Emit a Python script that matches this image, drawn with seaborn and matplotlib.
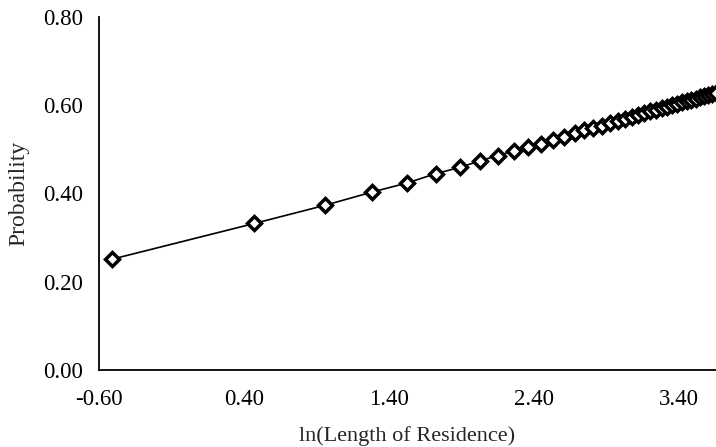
import matplotlib
matplotlib.use("Agg")
import matplotlib.pyplot as plt
import seaborn as sns
import pandas as pd
from matplotlib.ticker import FormatStrFormatter

# values
ln_residence = [-0.511, 0.470, 0.956, 1.281, 1.526, 1.723, 1.887, 2.028, 2.152, 2.262,
                2.361, 2.451, 2.534, 2.610, 2.681, 2.747, 2.809, 2.868, 2.923, 2.976,
                3.025, 3.073, 3.118, 3.161, 3.203, 3.243, 3.281, 3.318, 3.353, 3.388,
                3.421, 3.453, 3.484, 3.515, 3.544, 3.572, 3.600, 3.627, 3.653]
probability = [0.251, 0.332, 0.373, 0.403, 0.424, 0.445, 0.459, 0.474, 0.486, 0.497,
               0.505, 0.513, 0.522, 0.529, 0.536, 0.543, 0.548, 0.554, 0.560, 0.565,
               0.569, 0.574, 0.578, 0.582, 0.586, 0.590, 0.593, 0.597, 0.600, 0.603,
               0.607, 0.609, 0.612, 0.615, 0.618, 0.620, 0.623, 0.625, 0.628]
x_ticks = [-0.60, 0.40, 1.40, 2.40, 3.40]
y_ticks = [0.00, 0.20, 0.40, 0.60, 0.80]

df = pd.DataFrame({"x": ln_residence, "p": probability})

sns.set_style("white")
plt.rcParams["font.family"] = ["Liberation Serif", "DejaVu Serif"]
plt.rcParams["axes.unicode_minus"] = False

fig = plt.figure(figsize=(7.16, 4.47), dpi=100)
ax = fig.add_axes([0.1383, 0.1723, 0.8617, 0.7897])

sns.lineplot(data=df, x="x", y="p", ax=ax, color="black", linewidth=1.2,
             marker="D", markersize=7, markerfacecolor="white",
             markeredgecolor="black", markeredgewidth=2.5)

ax.set_xlim(-0.60, 3.655)
ax.set_ylim(0.0, 0.80)
ax.set_xticks(x_ticks)
ax.set_yticks(y_ticks)
ax.xaxis.set_major_formatter(FormatStrFormatter("%.2f"))
ax.yaxis.set_major_formatter(FormatStrFormatter("%.2f"))

for side in ["top", "right"]:
    ax.spines[side].set_visible(False)
for side in ["left", "bottom"]:
    ax.spines[side].set_color("black")
    ax.spines[side].set_linewidth(1.3)

ax.tick_params(axis="both", direction="inout", length=7, width=1.1,
               colors="black", labelsize=16.5)
ax.tick_params(axis="x", pad=10)
ax.tick_params(axis="y", pad=8)

ax.set_xlabel("ln(Length of Residence)", fontsize=16, labelpad=12)
ax.set_ylabel("Probability", fontsize=17, labelpad=10)

fig.savefig("out.png", dpi=100)
